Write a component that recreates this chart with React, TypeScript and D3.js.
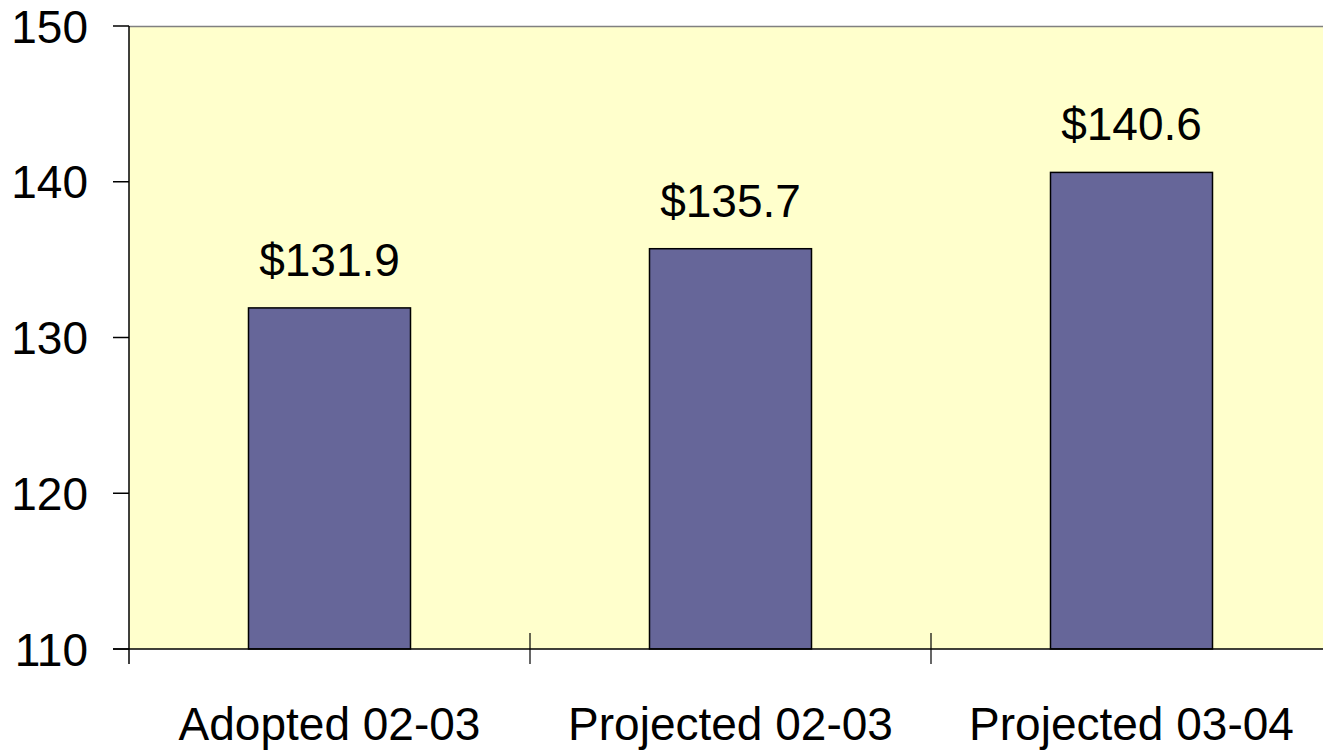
import React, { useEffect, useRef } from 'react';
import * as d3 from 'd3';

const categories = ['Adopted 02-03', 'Projected 02-03', 'Projected 03-04'];
const values = [131.9, 135.7, 140.6];
const valueLabels = ['$131.9', '$135.7', '$140.6'];
const yTicks = [110, 120, 130, 140, 150];

const App: React.FC = () => {
  const svgRef = useRef<SVGSVGElement>(null);

  useEffect(() => {
    if (!svgRef.current) return;
    const svg = d3.select(svgRef.current);
    svg.selectAll('*').remove();

    const width = 1323;
    const height = 752;
    const left = 129;
    const top = 26;
    const bottom = 649;
    const right = 1332; // plot area runs past the right edge of the picture
    const font = 'Liberation Sans, Arial, sans-serif';

    const x = d3.scaleBand<string>()
      .domain(categories)
      .range([left, right])
      .paddingInner(0.596)
      .paddingOuter(0.298);
    const step = (right - left) / categories.length;

    const y = d3.scaleLinear().domain([110, 150]).range([bottom, top]);

    svg.attr('width', width).attr('height', height);

    // plot background
    svg.append('rect')
      .attr('x', left).attr('y', top)
      .attr('width', right - left).attr('height', bottom - top)
      .attr('fill', '#FFFFCC');
    svg.append('line')
      .attr('x1', left).attr('x2', right)
      .attr('y1', top + 0.5).attr('y2', top + 0.5)
      .attr('stroke', '#808080').attr('stroke-width', 1.5);

    // bars
    svg.append('g').selectAll('rect')
      .data(values)
      .join('rect')
      .attr('x', (d, i) => x(categories[i])!)
      .attr('y', d => y(d))
      .attr('width', x.bandwidth())
      .attr('height', d => bottom - y(d))
      .attr('fill', '#666699')
      .attr('stroke', '#000')
      .attr('stroke-width', 1.5);

    // value labels
    svg.append('g').selectAll('text')
      .data(values)
      .join('text')
      .attr('x', (d, i) => x(categories[i])! + x.bandwidth() / 2)
      .attr('y', d => y(d) - 32)
      .attr('text-anchor', 'middle')
      .attr('font-family', font)
      .attr('font-size', 46)
      .attr('fill', '#000')
      .text((d, i) => valueLabels[i]);

    // y axis
    svg.append('line')
      .attr('x1', left).attr('x2', left)
      .attr('y1', top).attr('y2', bottom + 15)
      .attr('stroke', '#000').attr('stroke-width', 1.5);
    const yg = svg.append('g');
    yg.selectAll('line')
      .data(yTicks)
      .join('line')
      .attr('x1', left - 16).attr('x2', left)
      .attr('y1', d => y(d)).attr('y2', d => y(d))
      .attr('stroke', '#000').attr('stroke-width', 1.5);
    yg.selectAll('text')
      .data(yTicks)
      .join('text')
      .attr('x', 88)
      .attr('y', d => y(d))
      .attr('dy', '0.36em')
      .attr('text-anchor', 'end')
      .attr('font-family', font)
      .attr('font-size', 46)
      .attr('fill', '#000')
      .text(d => String(d));

    // x axis
    svg.append('line')
      .attr('x1', left - 16).attr('x2', right)
      .attr('y1', bottom).attr('y2', bottom)
      .attr('stroke', '#000').attr('stroke-width', 1.5);
    const xg = svg.append('g');
    xg.selectAll('line')
      .data(d3.range(1, categories.length))
      .join('line')
      .attr('x1', i => left + i * step).attr('x2', i => left + i * step)
      .attr('y1', bottom - 16).attr('y2', bottom + 15)
      .attr('stroke', '#000').attr('stroke-width', 1.2);
    xg.selectAll('text')
      .data(categories)
      .join('text')
      .attr('x', d => x(d)! + x.bandwidth() / 2)
      .attr('y', 740)
      .attr('text-anchor', 'middle')
      .attr('font-family', font)
      .attr('font-size', 46)
      .attr('fill', '#000')
      .text(d => d);
  }, []);

  return (
    <div style={{ position: 'absolute', left: 0, top: 0, width: 1323, height: 752, overflow: 'hidden', background: '#fff' }}>
      <svg ref={svgRef} style={{ display: 'block' }}></svg>
    </div>
  );
};

export default App;
